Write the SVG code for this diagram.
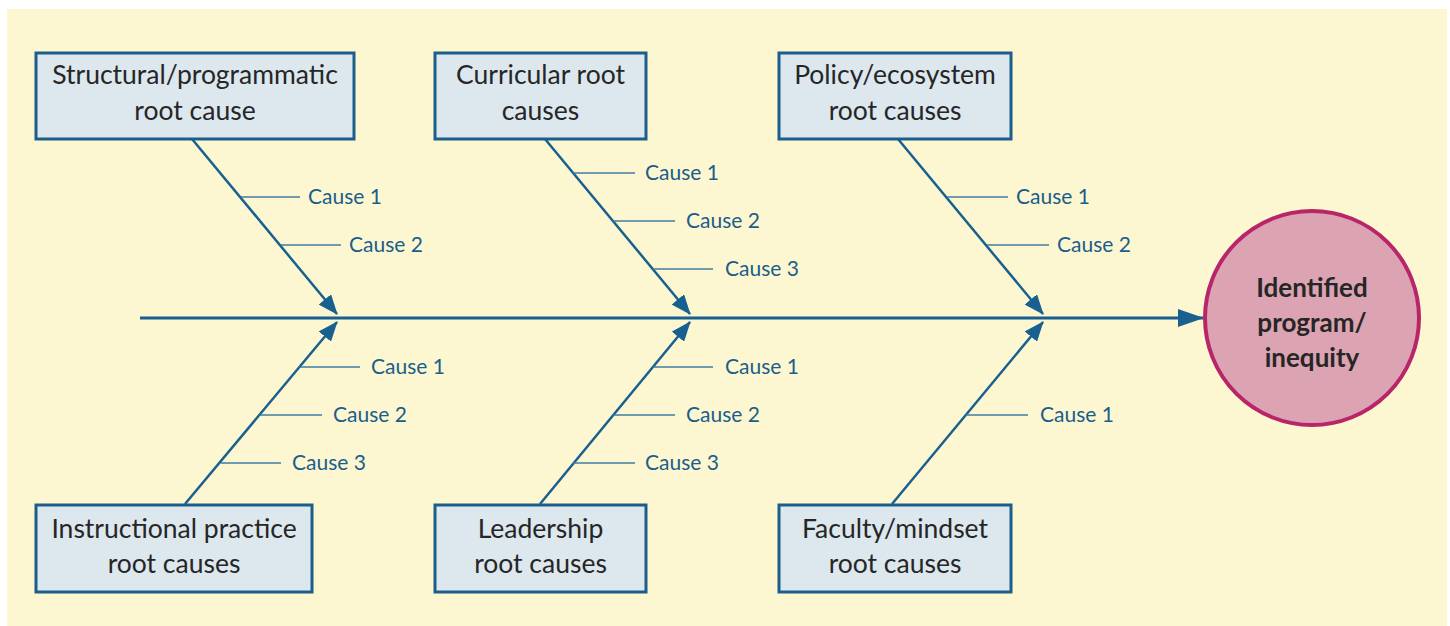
<svg xmlns="http://www.w3.org/2000/svg" width="1450" height="626" viewBox="0 0 1450 626">
<defs>
<style>
.box{fill:#DCE7EE;stroke:#1B5E8B;stroke-width:3}
.bt{font-family:Lato,"Open Sans",sans-serif;font-size:26.5px;fill:#262626;text-anchor:middle}
.bone{stroke:#17608F;stroke-width:2.5;fill:none}
.sub{stroke:#3F7DA3;stroke-width:1.6;fill:none}
.ct{font-family:Lato,"Open Sans",sans-serif;font-size:21px;fill:#1B5E8B}
.ht{font-family:Lato,"Open Sans",sans-serif;font-size:26px;font-weight:bold;fill:#262626;text-anchor:middle}
</style>
<marker id="ah" viewBox="0 0 20 16" refX="19" refY="8" markerWidth="20" markerHeight="16" markerUnits="userSpaceOnUse" orient="auto">
<path d="M0,0 L20,8 L0,16 z" fill="#17608F"/>
</marker>
<marker id="ahb" viewBox="0 0 26 18" refX="25" refY="9" markerWidth="26" markerHeight="18" markerUnits="userSpaceOnUse" orient="auto">
<path d="M0,0 L26,9 L0,18 z" fill="#17608F"/>
</marker>
</defs>
<rect x="0" y="0" width="1450" height="626" fill="#ffffff"/>
<rect x="7" y="9" width="1440" height="617" fill="#FDF7D1"/>

<g id="connectors">
<line class="bone" x1="140" y1="318" x2="1203" y2="318" marker-end="url(#ahb)" style="stroke-width:3"/>
<line class="bone" x1="192" y1="139" x2="337" y2="314" marker-end="url(#ah)"/>
<line class="bone" x1="545" y1="139" x2="690" y2="314" marker-end="url(#ah)"/>
<line class="bone" x1="898" y1="139" x2="1043" y2="314" marker-end="url(#ah)"/>
<line class="bone" x1="185" y1="504" x2="337" y2="322" marker-end="url(#ah)"/>
<line class="bone" x1="540" y1="504" x2="690" y2="322" marker-end="url(#ah)"/>
<line class="bone" x1="892" y1="504" x2="1043" y2="322" marker-end="url(#ah)"/>
<line class="sub" x1="241" y1="197" x2="300" y2="197"/>
<line class="sub" x1="281" y1="245" x2="341" y2="245"/>
<line class="sub" x1="573" y1="173" x2="635" y2="173"/>
<line class="sub" x1="613" y1="221" x2="675" y2="221"/>
<line class="sub" x1="653" y1="269" x2="713" y2="269"/>
<line class="sub" x1="947" y1="197" x2="1008" y2="197"/>
<line class="sub" x1="987" y1="245" x2="1049" y2="245"/>
<line class="sub" x1="300" y1="367" x2="360" y2="367"/>
<line class="sub" x1="260" y1="415" x2="322" y2="415"/>
<line class="sub" x1="221" y1="463" x2="281" y2="463"/>
<line class="sub" x1="653" y1="367" x2="713" y2="367"/>
<line class="sub" x1="613" y1="415" x2="675" y2="415"/>
<line class="sub" x1="573" y1="463" x2="635" y2="463"/>
<line class="sub" x1="966" y1="415" x2="1028" y2="415"/>
</g>

<g id="cause-labels">
<text class="ct" x="308" y="204">Cause 1</text>
<text class="ct" x="349" y="252">Cause 2</text>
<text class="ct" x="645" y="180">Cause 1</text>
<text class="ct" x="686" y="228">Cause 2</text>
<text class="ct" x="725" y="276">Cause 3</text>
<text class="ct" x="1016" y="204">Cause 1</text>
<text class="ct" x="1057" y="252">Cause 2</text>
<text class="ct" x="371" y="374">Cause 1</text>
<text class="ct" x="333" y="422">Cause 2</text>
<text class="ct" x="292" y="470">Cause 3</text>
<text class="ct" x="725" y="374">Cause 1</text>
<text class="ct" x="686" y="422">Cause 2</text>
<text class="ct" x="645" y="470">Cause 3</text>
<text class="ct" x="1040" y="422">Cause 1</text>
</g>

<g id="structural">
<rect class="box" x="36" y="53" width="318" height="86"/>
<text class="bt" x="195" y="84">Structural/programmatic</text>
<text class="bt" x="195" y="120">root cause</text>
</g>
<g id="curricular">
<rect class="box" x="435" y="53" width="211" height="86"/>
<text class="bt" x="540.5" y="84">Curricular root</text>
<text class="bt" x="540.5" y="120">causes</text>
</g>
<g id="policy">
<rect class="box" x="779" y="53" width="232" height="86"/>
<text class="bt" x="895" y="84">Policy/ecosystem</text>
<text class="bt" x="895" y="120">root causes</text>
</g>
<g id="instructional">
<rect class="box" x="36" y="505" width="276" height="87"/>
<text class="bt" x="174" y="538">Instructional practice</text>
<text class="bt" x="174" y="573">root causes</text>
</g>
<g id="leadership">
<rect class="box" x="435" y="505" width="211" height="87"/>
<text class="bt" x="540.5" y="538">Leadership</text>
<text class="bt" x="540.5" y="573">root causes</text>
</g>
<g id="faculty">
<rect class="box" x="779" y="505" width="232" height="87"/>
<text class="bt" x="895" y="538">Faculty/mindset</text>
<text class="bt" x="895" y="573">root causes</text>
</g>
<g id="outcome">
<circle cx="1312" cy="318" r="107" fill="#DCA3B3" stroke="#B8266A" stroke-width="4"/>
<text class="ht" x="1312" y="297">Identified</text>
<text class="ht" x="1312" y="332">program/</text>
<text class="ht" x="1312" y="367">inequity</text>
</g>
</svg>
